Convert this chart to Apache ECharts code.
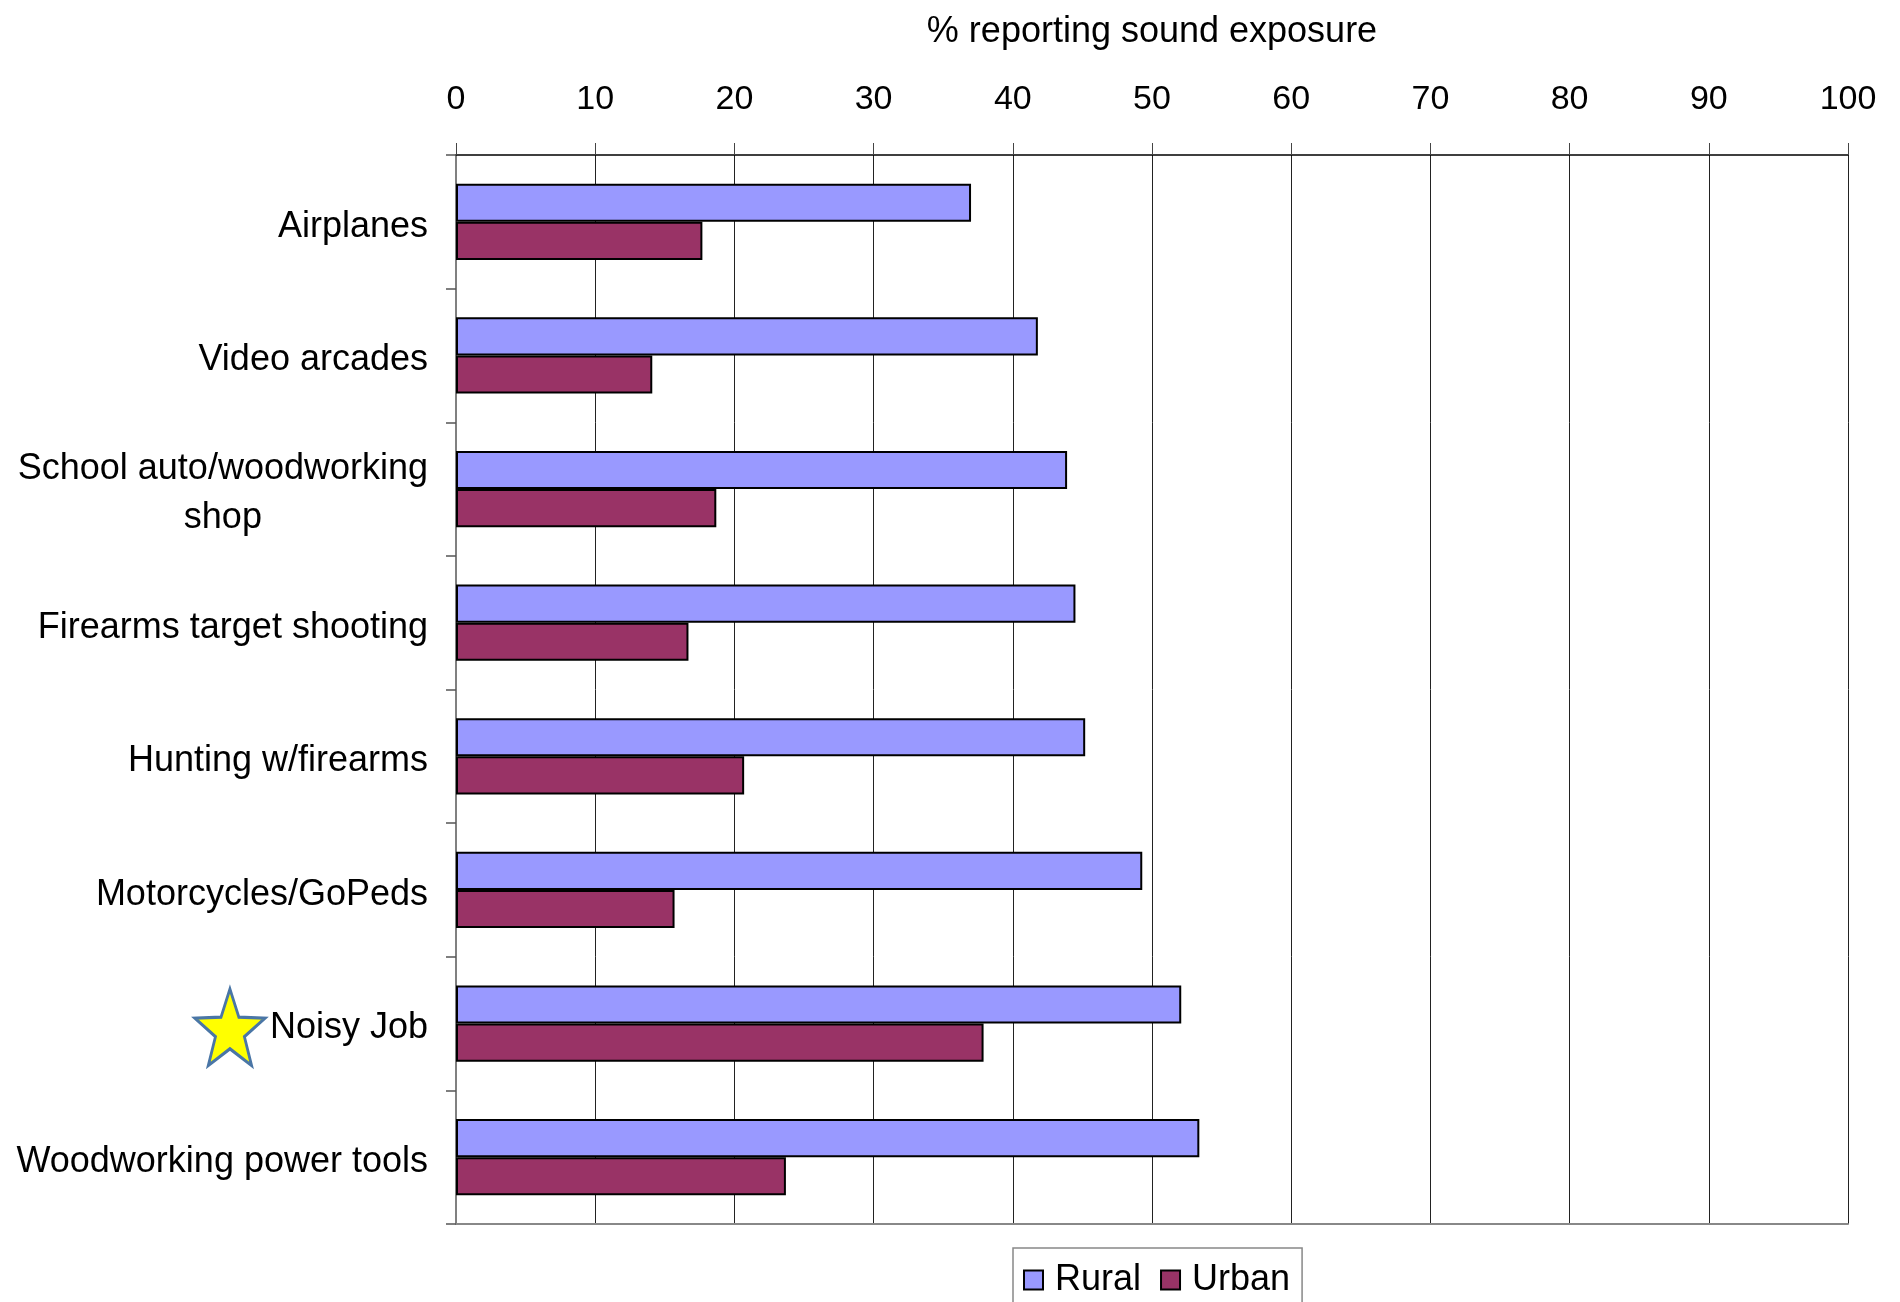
<!DOCTYPE html>
<html>
<head>
<meta charset="utf-8">
<title>Sound exposure</title>
<script src="https://cdn.jsdelivr.net/npm/echarts@6/dist/echarts.min.js"></script>
<style>
  html, body { margin: 0; padding: 0; background: #fff; }
  #myChart { width: 1900px; height: 1302px; }
</style>
</head>
<body>
<div id="myChart"></div>
<script>
  // categories, top to bottom
  var categories = ['Airplanes', 'Video arcades', 'School auto/woodworking\nshop', 'Firearms target shooting',
    'Hunting w/firearms', 'Motorcycles/GoPeds', 'Noisy Job', 'Woodworking power tools'];
  var seriesNames = ['Rural', 'Urban'];
  var rural = [37.0, 41.8, 43.9, 44.5, 45.2, 49.3, 52.1, 53.4];
  var urban = [17.7, 14.1, 18.7, 16.7, 20.7, 15.7, 37.9, 23.7];
  // value axis ticks
  var xMin = 0, xMax = 100, xStep = 10;
  var starred = 'Noisy Job';

  var font = '"Liberation Sans", Arial, sans-serif';

  // little yellow star drawn next to the starred label
  function starImage() {
    var pts = [];
    for (var i = 0; i < 10; i++) {
      var r = i % 2 === 0 ? 46 : 19;
      var a = (-90 + i * 36) * Math.PI / 180;
      pts.push((50 + r * Math.cos(a)).toFixed(2) + ',' + (53 + r * Math.sin(a)).toFixed(2));
    }
    var svg = '<svg xmlns="http://www.w3.org/2000/svg" width="100" height="100" viewBox="0 0 100 100">' +
      '<polygon points="' + pts.join(' ') + '" fill="#ffff00" stroke="#4a76a6" stroke-width="3.5"/></svg>';
    return 'data:image/svg+xml;charset=utf-8,' + encodeURIComponent(svg);
  }

  var myChart = echarts.init(document.getElementById('myChart'));

  myChart.setOption({
    animation: false,
    backgroundColor: '#fff',
    textStyle: { fontFamily: font, color: '#000' },
    grid: {
      left: 456,
      right: 52,
      top: 155,
      bottom: 78,
      outerBoundsMode: 'none'
    },
    legend: {
      data: seriesNames,
      left: 1013,
      top: 1248,
      orient: 'horizontal',
      padding: [14, 12, 30, 10],
      borderColor: '#888',
      borderWidth: 1.5,
      icon: 'rect',
      itemWidth: 19,
      itemHeight: 19,
      itemGap: 19,
      textStyle: { fontSize: 36, color: '#000', fontFamily: font, padding: [0, 0, 0, 7] }
    },
    xAxis: [{
      type: 'value',
      position: 'top',
      min: xMin,
      max: xMax,
      interval: xStep,
      name: '% reporting sound exposure',
      nameLocation: 'middle',
      nameGap: 105,
      nameTextStyle: { fontSize: 36, color: '#000', fontFamily: font },
      axisLine: { show: true, lineStyle: { color: '#000', width: 1.5 } },
      axisTick: { show: true, length: 12, lineStyle: { color: '#444', width: 1 } },
      axisLabel: { fontSize: 34, color: '#000', margin: 38, fontFamily: font },
      splitLine: { show: true, lineStyle: { color: '#222', width: 1 } }
    }, {
      // plain grey line closing the plot at the bottom
      type: 'value',
      position: 'bottom',
      min: xMin,
      max: xMax,
      axisLine: { show: true, lineStyle: { color: '#888', width: 2 } },
      axisTick: { show: false },
      axisLabel: { show: false },
      splitLine: { show: false }
    }],
    yAxis: {
      type: 'category',
      inverse: true,
      data: categories,
      axisLine: { show: true, lineStyle: { color: '#808080', width: 2 } },
      axisTick: { show: true, length: 10, lineStyle: { color: '#555', width: 1.5 } },
      axisLabel: {
        margin: 28,
        padding: [10, 0, 0, 0],
        fontSize: 36,
        color: '#000',
        fontFamily: font,
        formatter: function (v) {
          if (v === starred) return '{star|}{t|' + v + '}';
          return v.split('\n').map(function (s) { return '{c|' + s + '}'; }).join('\n');
        },
        rich: {
          star: { width: 80, height: 92, backgroundColor: { image: starImage() } },
          t: { fontSize: 36, color: '#000', fontFamily: font },
          c: { fontSize: 36, color: '#000', fontFamily: font, align: 'center', lineHeight: 49 }
        }
      },
      splitLine: { show: false }
    },
    series: [{
      name: seriesNames[0],
      type: 'bar',
      xAxisIndex: 0,
      data: rural,
      barGap: '0%',
      barCategoryGap: '43%',
      itemStyle: { color: '#9999ff', borderColor: '#000', borderWidth: 2 }
    }, {
      name: seriesNames[1],
      type: 'bar',
      xAxisIndex: 0,
      data: urban,
      barGap: '0%',
      barCategoryGap: '43%',
      itemStyle: { color: '#993366', borderColor: '#000', borderWidth: 2 }
    }]
  });

  window.onresize = myChart.resize;
</script>
</body>
</html>
